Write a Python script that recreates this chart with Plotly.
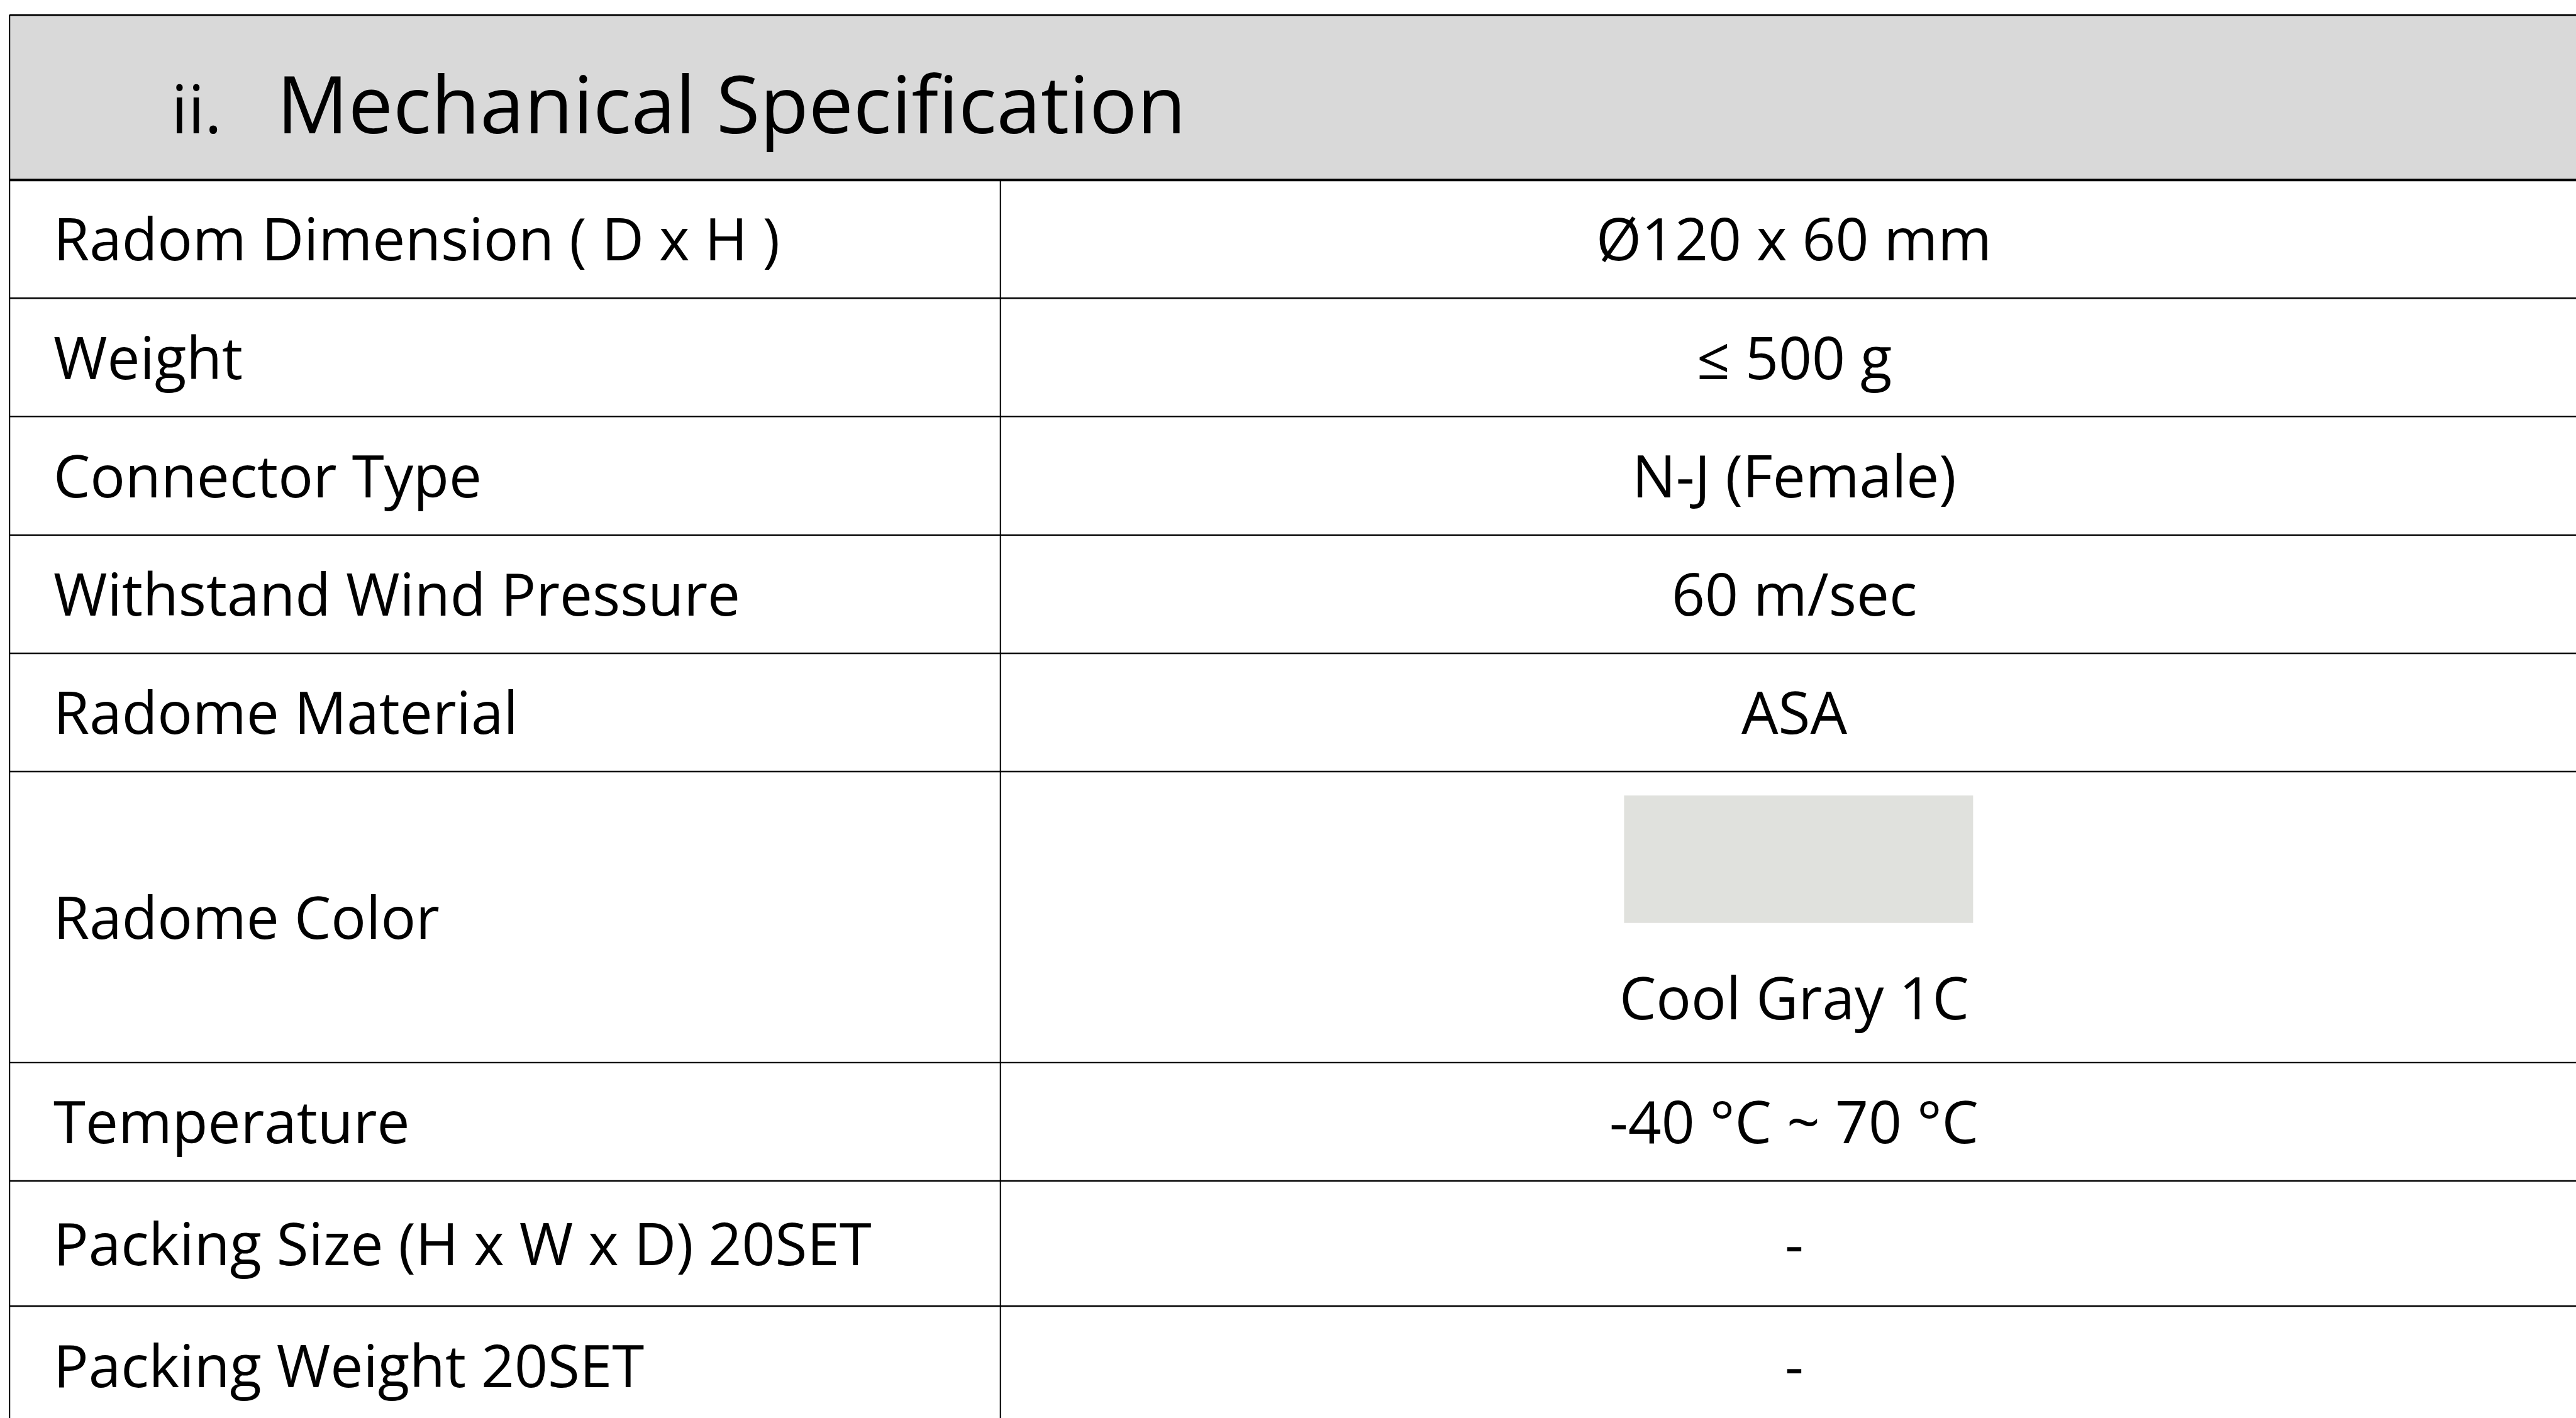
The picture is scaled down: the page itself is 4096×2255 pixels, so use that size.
import plotly.graph_objects as go

# ---------------- data ----------------
title_num = "ii."
title_text = "Mechanical Specification"
spec_labels = [
    "Radom Dimension ( D x H )",
    "Weight",
    "Connector Type",
    "Withstand Wind Pressure",
    "Radome Material",
    "Radome Color",
    "Temperature",
    "Packing Size (H x W x D) 20SET",
    "Packing Weight 20SET",
]
spec_values = [
    "Ø120 x 60 mm",
    "≤ 500 g",
    "N-J (Female)",
    "60 m/sec",
    "ASA",
    "Cool Gray 1C",
    "-40 °C ~ 70 °C",
    "-",
    "-",
]
swatch_row = "Radome Color"
swatch_color = "#E0E1DD"

# ---------------- layout (reference pixel units) ----------------
W_REF, H_REF = 4465, 2458
W_OUT, H_OUT = 4096, 2255
S = W_OUT / W_REF

X_LEFT, X_DIV, X_RIGHT = 16.5, 1734, 4486
Y_TOP, Y_HEAD = 26, 312
ROW_EDGES = [312, 517, 722, 927.5, 1132.5, 1337.5, 1842, 2047, 2264, 2470]

FONT = "Open Sans"
ROW_FS = 101 * S
TITLE_FS = 138 * S
NUM_FS = 115 * S

fig = go.Figure()
shapes = []
annotations = []

# header band
shapes.append(dict(type="rect", x0=X_LEFT, x1=X_RIGHT, y0=Y_TOP, y1=Y_HEAD,
                   fillcolor="#D9D9D9", line=dict(width=0), layer="below"))
# outer / grid lines
shapes.append(dict(type="line", x0=X_LEFT, x1=X_RIGHT, y0=Y_TOP, y1=Y_TOP,
                   line=dict(color="#000", width=2.8)))
shapes.append(dict(type="line", x0=X_LEFT, x1=X_RIGHT, y0=Y_HEAD, y1=Y_HEAD,
                   line=dict(color="#000", width=4)))
shapes.append(dict(type="line", x0=X_LEFT, x1=X_LEFT, y0=Y_TOP, y1=ROW_EDGES[-1],
                   line=dict(color="#000", width=2.2)))
shapes.append(dict(type="line", x0=X_DIV, x1=X_DIV, y0=Y_HEAD, y1=ROW_EDGES[-1],
                   line=dict(color="#000", width=2)))
for yb in ROW_EDGES[1:]:
    shapes.append(dict(type="line", x0=X_LEFT, x1=X_RIGHT, y0=yb, y1=yb,
                       line=dict(color="#000", width=2.4)))

# title
annotations.append(dict(x=294, y=231.5 - 0.388 * 115, text=title_num, showarrow=False,
                        xanchor="left", yanchor="middle", xref="x", yref="y",
                        font=dict(family=FONT, size=NUM_FS, color="#000")))
annotations.append(dict(x=477, y=231.5 - 0.388 * 138, text=title_text, showarrow=False,
                        xanchor="left", yanchor="middle", xref="x", yref="y",
                        font=dict(family=FONT, size=TITLE_FS, color="#000")))

x_val = (X_DIV + X_RIGHT) / 2
for i, (lab, val) in enumerate(zip(spec_labels, spec_values)):
    y0, y1 = ROW_EDGES[i], ROW_EDGES[i + 1]
    ymid = (y0 + y1) / 2 - 2
    annotations.append(dict(x=91, y=ymid, text=lab, showarrow=False,
                            xanchor="left", yanchor="middle", xref="x", yref="y",
                            font=dict(family=FONT, size=ROW_FS, color="#000")))
    if lab == swatch_row:
        shapes.append(dict(type="rect", x0=2815, x1=3420, y0=y0 + 41.5, y1=y0 + 262.5,
                           fillcolor=swatch_color, line=dict(width=0), layer="below"))
        vy = y0 + 390
    else:
        vy = ymid
    annotations.append(dict(x=x_val, y=vy, text=val, showarrow=False,
                            xanchor="center", yanchor="middle", xref="x", yref="y",
                            font=dict(family=FONT, size=ROW_FS, color="#000")))

fig.update_layout(
    width=W_OUT, height=H_OUT,
    margin=dict(l=0, r=0, t=0, b=0),
    paper_bgcolor="#FFFFFF", plot_bgcolor="#FFFFFF",
    xaxis=dict(range=[0, W_REF], visible=False, fixedrange=True),
    yaxis=dict(range=[H_REF, 0], visible=False, fixedrange=True),
    shapes=shapes, annotations=annotations, showlegend=False,
)
fig.write_html(
    "out.html",
    config={"displayModeBar": False},
    post_script="document.body.style.margin='0px';document.body.style.overflow='hidden';",
)
